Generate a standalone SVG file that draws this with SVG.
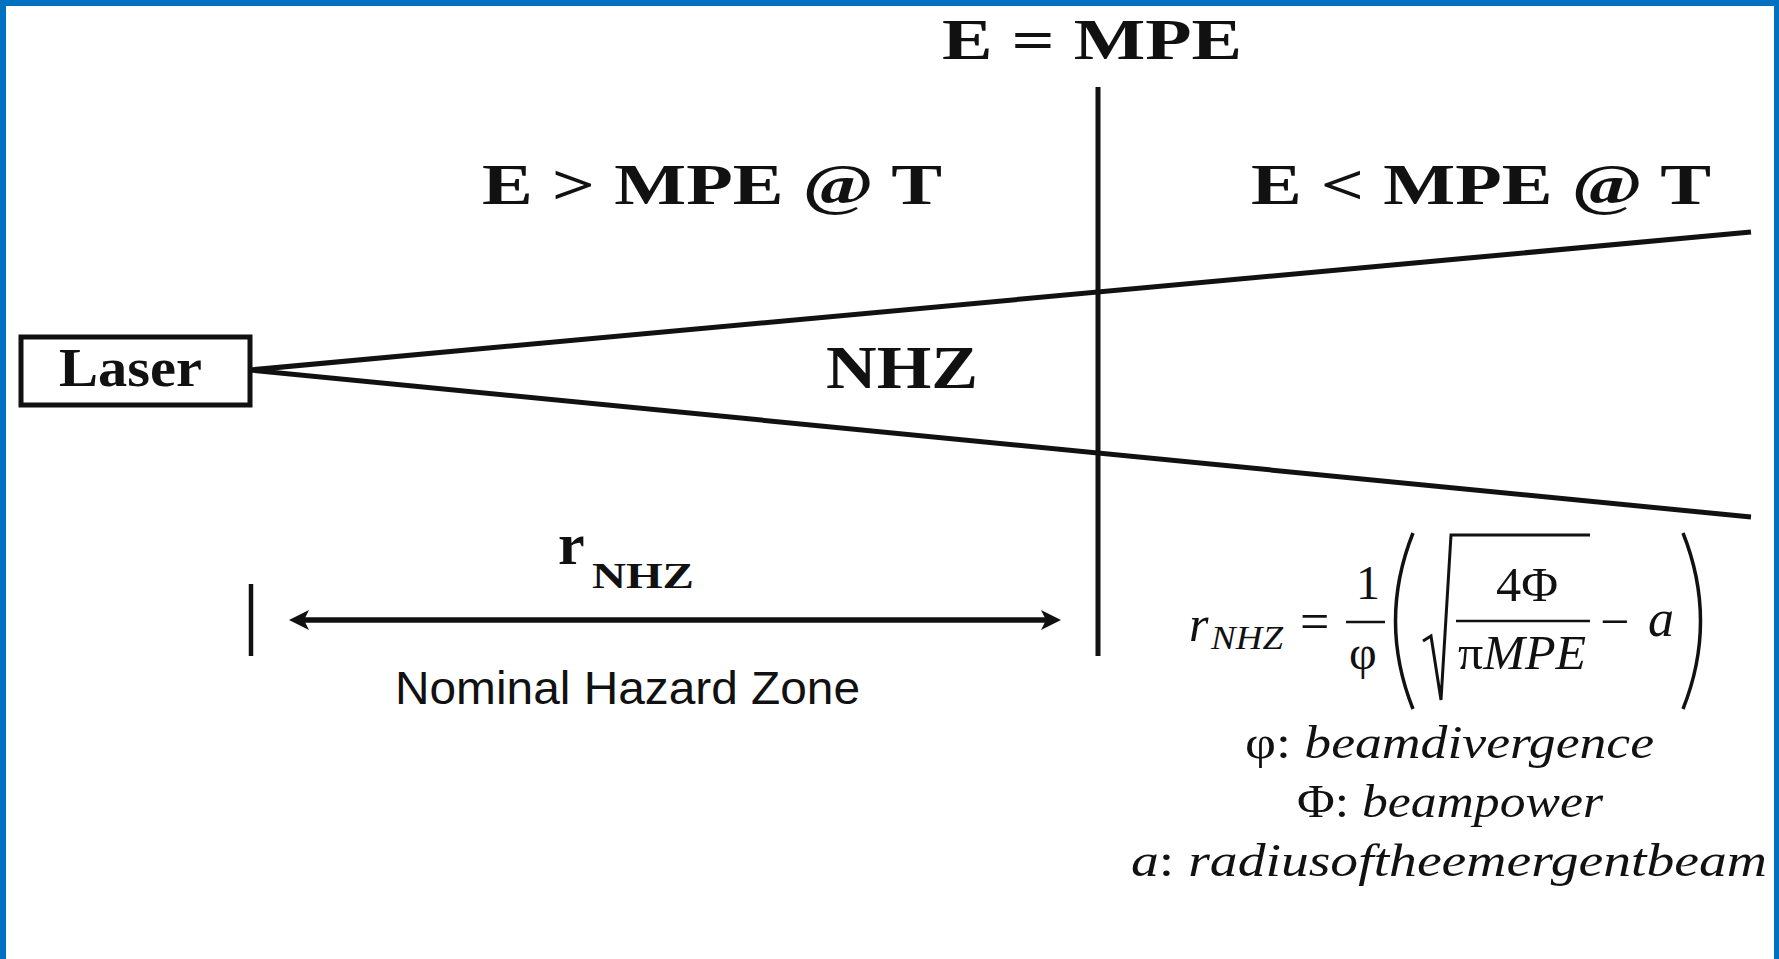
<svg xmlns="http://www.w3.org/2000/svg" width="1779" height="959" viewBox="0 0 1779 959">
<style>
.lbl{font-family:"Liberation Serif","DejaVu Serif",serif;font-weight:bold;fill:#111}
.math{font-family:"Liberation Serif","DejaVu Serif",serif;fill:#111}
.it{font-style:italic}
.sans{font-family:"Liberation Sans",Arial,sans-serif;fill:#111}
.ln{stroke:#111;fill:none;stroke-linecap:butt}
</style>
<defs>
<marker id="ah" viewBox="0 0 20 20" markerWidth="20" markerHeight="20" refX="10" refY="10" markerUnits="userSpaceOnUse" orient="auto-start-reverse">
<path d="M0,0 L20,10 L0,20 L5,10 z" fill="#111"/>
</marker>
</defs>
<rect width="1779" height="959" fill="#fff"/>
<g id="frame" fill="#0070C0">
<rect x="0" y="0" width="1779" height="6"/>
<rect x="0" y="0" width="6" height="959"/>
<rect x="1774" y="0" width="5" height="959"/>
</g>
<g id="connectors">
<line class="ln" x1="1098" y1="87" x2="1098" y2="656" stroke-width="5"/>
<line class="ln" x1="250" y1="370" x2="1751" y2="232" stroke-width="5"/>
<line class="ln" x1="250" y1="370" x2="1751" y2="517" stroke-width="5"/>
<line class="ln" x1="251" y1="584" x2="251" y2="656" stroke-width="4.5"/>
<line class="ln" x1="299" y1="620" x2="1051" y2="620" stroke-width="5.5" marker-start="url(#ah)" marker-end="url(#ah)"/>
</g>
<g id="laser">
<rect x="21" y="337" width="229" height="68" fill="#fff" stroke="#111" stroke-width="5"/>
<text class="lbl" x="59" y="386" font-size="54" textLength="143" lengthAdjust="spacingAndGlyphs">Laser</text>
</g>
<g id="e-eq-mpe">
<text class="lbl" x="942" y="59" font-size="58" textLength="300" lengthAdjust="spacingAndGlyphs">E = MPE</text>
</g>
<g id="e-gt-mpe">
<text class="lbl" x="482" y="204" font-size="58" textLength="460" lengthAdjust="spacingAndGlyphs">E &gt; MPE @ T</text>
</g>
<g id="e-lt-mpe">
<text class="lbl" x="1251" y="204" font-size="58" textLength="460" lengthAdjust="spacingAndGlyphs">E &lt; MPE @ T</text>
</g>
<g id="nhz">
<text class="lbl" x="826" y="388" font-size="62" textLength="152" lengthAdjust="spacingAndGlyphs">NHZ</text>
</g>
<g id="rnhz">
<text class="lbl" x="558" y="564" font-size="60">r</text>
<text class="lbl" x="592" y="588" font-size="36" textLength="102" lengthAdjust="spacingAndGlyphs">NHZ</text>
</g>
<g id="nominal">
<text class="sans" x="395" y="704" font-size="47" textLength="465" lengthAdjust="spacingAndGlyphs">Nominal Hazard Zone</text>
</g>
<g id="formula">
<text class="math it" x="1189" y="641" font-size="50">r</text>
<text class="math it" x="1211" y="649" font-size="33" textLength="72" lengthAdjust="spacingAndGlyphs">NHZ</text>
<text class="math" x="1300" y="639" font-size="52">=</text>
<text class="math" x="1356" y="599" font-size="48">1</text>
<line class="ln" x1="1346" y1="622" x2="1385" y2="622" stroke-width="2.5"/>
<text class="math" x="1349" y="669" font-size="48">φ</text>
<path class="ln" d="M1413,533 Q1378,621 1413,709" stroke-width="3.5"/>
<path class="ln" d="M1423,641 L1431,636 L1441,700 L1451,535 L1590,535" stroke-width="3"/>
<text class="math" x="1496" y="601" font-size="48" textLength="62" lengthAdjust="spacingAndGlyphs">4Φ</text>
<line class="ln" x1="1456" y1="621" x2="1590" y2="621" stroke-width="2.5"/>
<text class="math" x="1458" y="669" font-size="48" textLength="128" lengthAdjust="spacingAndGlyphs">π<tspan class="it">MPE</tspan></text>
<text class="math" x="1600" y="639" font-size="52">−</text>
<text class="math it" x="1648" y="636" font-size="52">a</text>
<path class="ln" d="M1683,533 Q1718,621 1683,709" stroke-width="3.5"/>
</g>
<g id="legend">
<text class="math" x="1245" y="758" font-size="46" textLength="409" lengthAdjust="spacingAndGlyphs">φ: <tspan class="it">beamdivergence</tspan></text>
<text class="math" x="1297" y="817" font-size="46" textLength="306" lengthAdjust="spacingAndGlyphs">Φ: <tspan class="it">beampower</tspan></text>
<text class="math" x="1131" y="876" font-size="46" textLength="636" lengthAdjust="spacingAndGlyphs"><tspan class="it">a</tspan>: <tspan class="it">radiusoftheemergentbeam</tspan></text>
</g>
</svg>
